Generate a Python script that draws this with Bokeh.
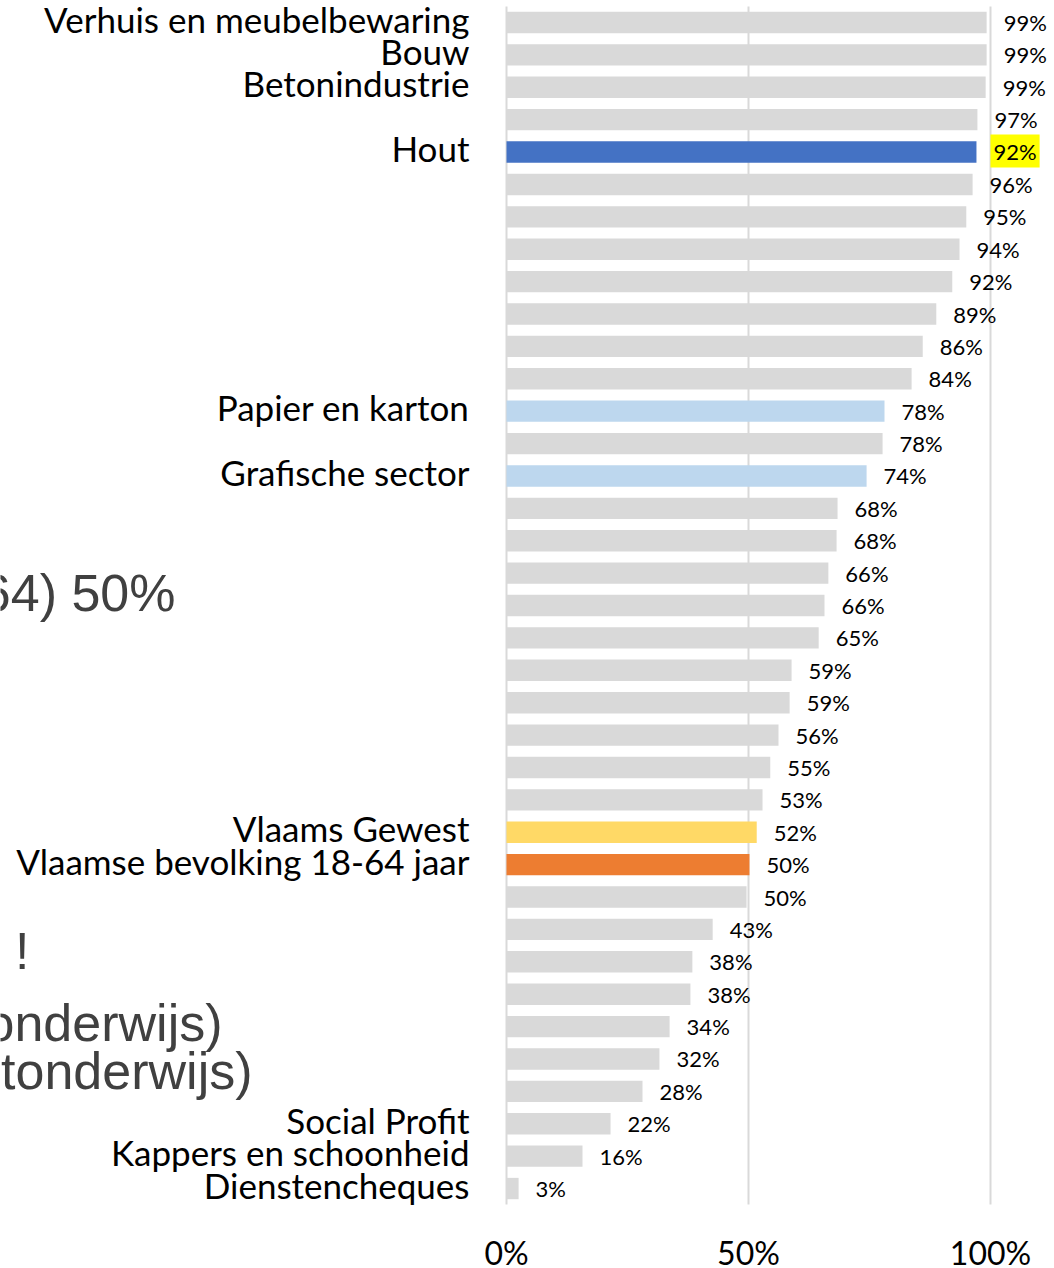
from bokeh.plotting import figure
from bokeh.models import Range1d, Label, ColumnDataSource
from bokeh.core.properties import value
from bokeh.embed import file_html
from bokeh.resources import INLINE

# ---------------- data ----------------
categories = [
    "Verhuis en meubelbewaring", "Bouw", "Betonindustrie", "", "Hout",
    "", "", "", "", "", "", "",
    "Papier en karton", "", "Grafische sector",
    "", "", "", "", "", "", "", "", "", "",
    "Vlaams Gewest", "Vlaamse bevolking 18-64 jaar",
    "", "", "", "", "", "", "",
    "Social Profit", "Kappers en schoonheid", "Dienstencheques",
]
bar_values = [99.2, 99.2, 99.0, 97.3, 97.1, 96.3, 95.0, 93.6, 92.1, 88.8,
              86.0, 83.7, 78.1, 77.7, 74.4, 68.4, 68.2, 66.5, 65.7, 64.5,
              58.9, 58.5, 56.2, 54.5, 52.9, 51.7, 50.2, 49.6, 42.6, 38.4,
              38.0, 33.7, 31.6, 28.1, 21.5, 15.7, 2.5]
value_labels = ["99%", "99%", "99%", "97%", "92%", "96%", "95%", "94%", "92%", "89%",
                "86%", "84%", "78%", "78%", "74%", "68%", "68%", "66%", "66%", "65%",
                "59%", "59%", "56%", "55%", "53%", "52%", "50%", "50%", "43%", "38%",
                "38%", "34%", "32%", "28%", "22%", "16%", "3%"]
groups = ["other"] * 37
groups[4] = "focus"
groups[12] = "related"
groups[14] = "related"
groups[25] = "region"
groups[26] = "population"
highlighted = [4]
tick_values = [0, 50, 100]
tick_labels = ["0%", "50%", "100%"]
side_texts = ["64) 50%", "!", "onderwijs)", "tonderwijs)"]

# ---------------- style / layout ----------------
group_colors = {"other": "#d9d9d9", "focus": "#4472c4", "related": "#bdd7ee",
                "region": "#ffd966", "population": "#ed7d31"}

W, H = 1054, 1268
X0_PX = 506          # pixel of 0 %
PX_PER_PCT = 4.84    # pixels per percentage point
ROW0_PX = 22         # pixel of the first row centre
ROW_PX = 32.39       # pixels per row

n = len(categories)

def x_at(px):
    return (px - X0_PX) / PX_PER_PCT

def y_at(py):
    return (n - 1) - (py - ROW0_PX) / ROW_PX

ys = [n - 1 - k for k in range(n)]

src = ColumnDataSource(dict(y=ys, v=bar_values,
                            color=[group_colors[g] for g in groups]))
normal_idx = [k for k in range(n) if k not in highlighted]
src_lab = ColumnDataSource(dict(y=[ys[k] for k in normal_idx],
                                v=[bar_values[k] for k in normal_idx],
                                lab=[value_labels[k] for k in normal_idx]))
cat_idx = [k for k in range(n) if categories[k]]
src_cat = ColumnDataSource(dict(y=[ys[k] for k in cat_idx],
                                x=[0] * len(cat_idx),
                                name=[categories[k] for k in cat_idx]))

p = figure(width=W, height=H, output_backend="svg", toolbar_location=None,
           x_range=Range1d(x_at(0), x_at(W)), y_range=Range1d(y_at(H), y_at(0)),
           min_border=0)
p.outline_line_color = None
p.background_fill_color = "white"
p.border_fill_color = "white"
p.xaxis.visible = False
p.yaxis.visible = False
p.xgrid.visible = False
p.ygrid.visible = False

# grid lines
p.segment(x0=tick_values, x1=tick_values, y0=[y_at(6)] * 3, y1=[y_at(1204)] * 3,
          line_color="#d9d9d9", line_width=2)

# bars
p.hbar(y="y", left=0, right="v", height=0.66, fill_color="color", line_color=None, source=src)

# value labels
p.text(x="v", y="y", text="lab", x_offset=17, text_align="left", text_baseline="middle",
       text_font=value("Lato"), text_font_size="22px", text_color="black", source=src_lab)
for k in highlighted:
    p.add_layout(Label(x=bar_values[k], y=ys[k], text=value_labels[k], x_offset=14,
                       y_offset=1, text_align="left", text_baseline="middle",
                       text_font="Lato", text_font_size="22px", text_color="black",
                       background_fill_color="#ffff00", padding=3))

# category labels
p.text(x="x", y="y", text="name", x_offset=-37, y_offset=-4, text_align="right",
       text_baseline="middle", text_font=value("Lato"), text_font_size="35px",
       text_color="black", source=src_cat)

# x tick labels
p.text(x=tick_values, y=[y_at(1252)] * 3, text=tick_labels, text_align="center",
       text_baseline="middle", text_font=value("Lato"), text_font_size="32px",
       text_color="black")

# partially visible texts at the left edge
side_pos = [(175, 592), (29, 950), (222, 1022), (252, 1070)]
p.text(x=[x_at(sx) for sx, _ in side_pos], y=[y_at(sy) for _, sy in side_pos],
       text=side_texts, text_align="right", text_baseline="middle",
       text_font=value("Liberation Sans"), text_font_size="52px", text_color="#404040")

open("out.html", "w").write(file_html(p, INLINE))
